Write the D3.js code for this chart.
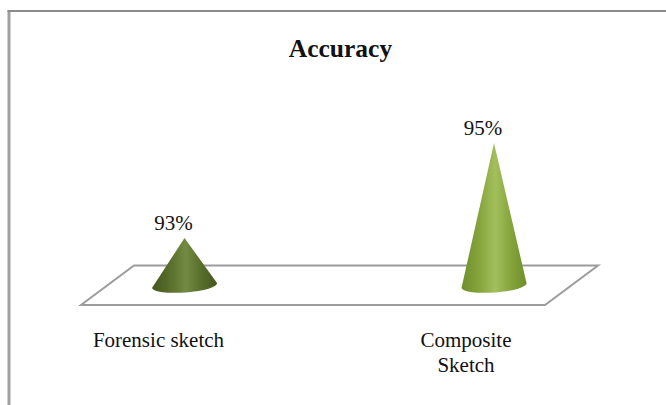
<!DOCTYPE html>
<html>
<head>
<meta charset="utf-8">
<script src="https://cdn.jsdelivr.net/npm/d3@7/dist/d3.min.js"></script>
<style>
  html, body { margin: 0; padding: 0; background: #fff; }
  svg { display: block; }
  text { font-family: "Liberation Serif", "Times New Roman", serif; fill: #111; }
</style>
</head>
<body>
<svg id="chart" width="666" height="405"></svg>
<script>
const titleText = "Accuracy";
const categories = ["Forensic sketch", "Composite Sketch"];
const categoryLines = [["Forensic sketch"], ["Composite", "Sketch"]];
const values = [93, 95];
const valueLabels = ["93%", "95%"];
const palettes = [
  { edge: "#445720", mid: "#566c2a", light: "#728a42" },
  { edge: "#6f8f2c", mid: "#83a23a", light: "#a2bf5c" }
];

const svg = d3.select("#chart");
const defs = svg.append("defs");

// Cone positions and the value scale they rise along.
const x = d3.scalePoint().domain(categories).range([184.5, 494]);
const y = d3.scaleLinear().domain([92, 95]).range([285.5, 143]);
const radius = 32.5;
const baseDrop = 7;
const baseTilt = 2.5;

// Outer frame: top and left edges run off the window.
svg.append("line").attr("x1", 9).attr("x2", 9).attr("y1", 10).attr("y2", 405)
  .attr("stroke", "#a0a0a0").attr("stroke-width", 3);
svg.append("line").attr("x1", 7.5).attr("x2", 666).attr("y1", 11).attr("y2", 11)
  .attr("stroke", "#8c8c8c").attr("stroke-width", 2);

// Floor parallelogram.
const floorY = d3.scaleLinear().domain([0, 1]).range([305, 265.5]);
const floorPts = [[81, 0], [545, 0], [598, 1], [134, 1]].map(d => [d[0], floorY(d[1])]);
svg.append("path")
  .attr("d", d3.line()(floorPts) + "Z")
  .attr("fill", "#fff").attr("stroke", "#9c9c9c").attr("stroke-width", 2);

svg.append("text")
  .attr("x", 340.5).attr("y", 57).attr("text-anchor", "middle")
  .attr("font-size", 25.5).attr("font-weight", "bold")
  .text(titleText);

categories.forEach((cat, i) => {
  const p = palettes[i];
  const id = "cone" + i;
  const grad = defs.append("linearGradient").attr("id", id);
  [[0, p.edge], [0.25, p.mid], [0.52, p.light], [0.78, p.mid], [1, p.edge]].forEach(s =>
    grad.append("stop").attr("offset", s[0]).attr("stop-color", s[1]));

  const cx = x(cat);
  const top = y(values[i]);
  const base = y(92);
  svg.append("path")
    .attr("d", `M${cx},${top}L${cx + radius},${base - baseTilt}` +
      `A${radius},${baseDrop} -4 0 1 ${cx - radius},${base + baseTilt}Z`)
    .attr("fill", `url(#${id})`);

  svg.append("text")
    .attr("x", cx - 11).attr("y", top - 8).attr("text-anchor", "middle")
    .attr("font-size", 21).text(valueLabels[i]);
});

// Category labels below the floor.
const labelX = [158.5, 466];
categoryLines.forEach((lines, i) => {
  lines.forEach((line, j) => {
    svg.append("text")
      .attr("x", labelX[i]).attr("y", 347 + j * 25)
      .attr("text-anchor", "middle").attr("font-size", 21)
      .text(line);
  });
});
</script>
</body>
</html>
